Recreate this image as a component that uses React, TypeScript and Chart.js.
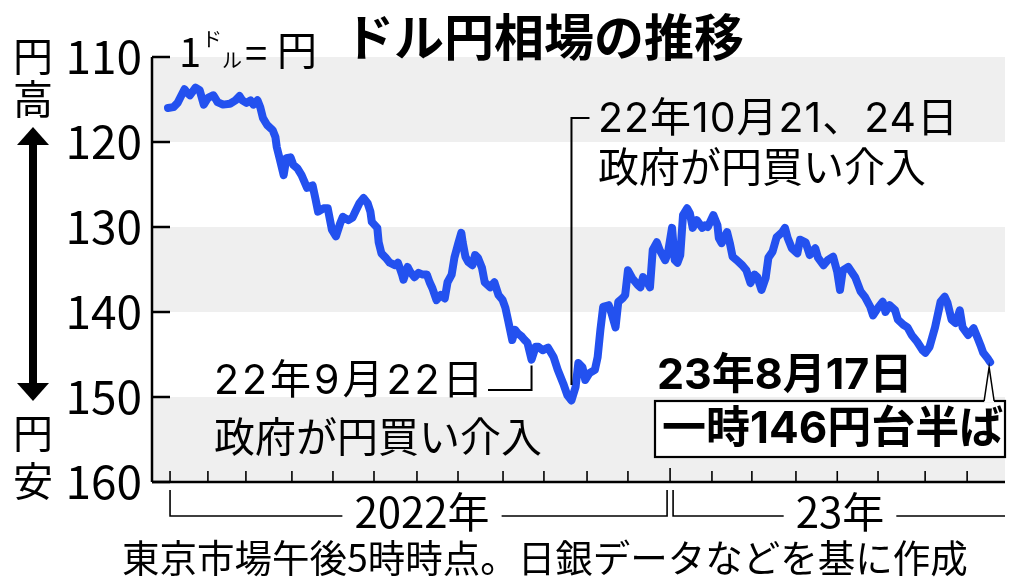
import React, { useEffect, useRef } from 'react';
import { Chart, registerables } from 'chart.js';

Chart.register(...registerables);

// Days counted from 2022-01-01 (x position on the time axis)
const days = [0,4,7,12,14,16,20,23,26,29,33,36,40,45,49,52,54,57,60,62,65,67,69,72,76,78,79,81,84,86,89,91,94,97,101,105,107,109,113,116,119,122,125,127,131,134,136,139,142,145,147,148,152,153,155,158,161,165,167,170,171,174,176,179,182,185,188,190,192,195,198,201,203,206,208,211,213,214,216,218,221,223,225,228,230,234,237,240,243,245,247,250,252,254,257,259,261,264,267,269,272,276,280,283,287,290,293,296,298,301,303,306,310,312,314,316,320,322,325,327,330,332,334,337,341,343,345,348,350,352,355,357,361,363,366,368,370,372,374,377,379,381,384,388,390,392,396,399,400,402,406,408,410,413,417,420,423,426,428,431,434,436,439,442,446,448,450,453,457,459,463,466,470,472,476,479,483,486,488,490,494,499,503,506,510,512,516,519,521,524,528,530,534,537,540,544,548,550,553,557,561,564,566,569,572,575,577,581,585,588,590,592,595,597];

// Yen per dollar, Tokyo 5pm
const usdJpy = [116.0,115.9,115.4,113.8,114.2,114.5,113.6,113.9,115.6,114.8,114.5,115.3,115.6,115.5,115.1,114.6,115.1,115.4,115.1,115.6,115.1,115.9,117.2,118.0,118.6,119.4,120.6,121.9,123.9,121.9,121.8,122.7,123.1,123.9,125.4,125.1,126.6,128.2,127.8,127.8,130.3,131.1,129.6,128.8,129.2,128.9,128.2,127.2,126.6,127.2,128.2,129.4,130.1,131.8,133.1,133.6,134.2,134.5,134.2,135.6,136.2,134.7,135.3,135.9,135.4,135.6,135.6,136.5,137.2,138.6,138.0,138.4,136.5,135.6,133.6,131.8,130.7,131.8,133.5,134.1,134.5,133.3,133.6,134.8,136.5,137.1,136.5,138.0,138.6,139.5,141.0,143.3,142.1,142.5,142.9,143.3,143.6,145.6,144.1,144.1,144.5,144.2,145.3,146.8,148.4,149.8,150.4,148.8,146.0,146.5,148.0,147.2,146.8,145.3,142.1,139.4,139.2,140.1,141.8,138.8,138.4,138.0,135.1,136.0,136.8,137.1,135.9,136.5,137.1,132.7,131.8,132.7,133.9,133.1,130.1,133.9,134.2,133.3,128.6,127.8,128.4,130.1,129.2,130.1,129.8,130.0,128.6,129.8,131.3,131.9,130.6,131.9,133.5,133.9,134.5,135.1,136.6,135.6,135.9,137.4,136.0,133.6,132.9,131.2,130.6,130.1,131.3,132.5,133.1,131.5,131.8,133.3,132.5,133.6,134.5,133.9,133.5,135.3,137.4,135.1,134.7,135.9,137.6,138.2,139.4,140.4,139.4,138.8,140.0,139.2,139.8,140.9,141.5,141.8,142.7,143.5,144.5,144.8,144.1,141.8,138.8,138.2,138.9,140.9,141.3,139.8,141.8,142.7,141.9,143.1,143.9,144.8,145.4,145.9];

// Month-start tick positions (days from 2022-01-01), Jan 2022 .. Aug 2023
const monthTicks = [1.5,29,56.6,90,119.8,149.6,180.8,210.6,243.3,273,304.3,334,364.6,395,424,456,486,515.6,549.8,580.3];
const yearStartIndex = 12; // Jan 2023 in monthTicks

const yTicks = [110, 120, 130, 140, 150, 160];
const shadedBands = [[110, 120], [130, 140], [150, 160]];

const titleText = 'ドル円相場の推移';
const yearLabels = ['2022年', '23年'];
const sourceNote = '東京市場午後5時時点。日銀データなどを基に作成';
const oct21Label = ['22年10月21、24日', '政府が円買い介入'];
const sep22Label = ['22年9月22日', '政府が円買い介入'];
const latestDate = '23年8月17日';
const latestNote = '一時146円台半ば';
const sep22Day = 264;
const oct21Day = 293;

const FONT = '"Noto Sans CJK JP", "Noto Sans", sans-serif';
const NUMFONT = 'Inter, "Noto Sans CJK JP", sans-serif';
const LINE_COLOR = '#2351ef';

const decorPlugin = {
  id: 'decor',
  beforeDraw(chart: any) {
    const { ctx, chartArea, scales } = chart;
    const y = scales.y;
    ctx.save();
    ctx.fillStyle = '#efefef';
    for (const [a, b] of shadedBands) {
      const y1 = y.getPixelForValue(a);
      const y2 = y.getPixelForValue(b);
      ctx.fillRect(chartArea.left, Math.min(y1, y2), chartArea.right - chartArea.left, Math.abs(y2 - y1));
    }
    ctx.restore();
  },
  afterDraw(chart: any) {
    const { ctx, chartArea, scales } = chart;
    const x = scales.x;
    const y = scales.y;
    const L = chartArea.left;
    const R = chartArea.right;
    const B = chartArea.bottom;
    ctx.save();
    ctx.strokeStyle = '#000';
    ctx.fillStyle = '#000';
    ctx.lineCap = 'butt';

    // left axis + inward ticks
    ctx.lineWidth = 2.5;
    ctx.beginPath();
    ctx.moveTo(L, y.getPixelForValue(110));
    ctx.lineTo(L, B);
    ctx.stroke();
    for (const t of yTicks) {
      const py = y.getPixelForValue(t);
      ctx.beginPath();
      ctx.moveTo(L, py);
      ctx.lineTo(L + 18, py);
      ctx.stroke();
    }
    // bottom axis
    ctx.beginPath();
    ctx.moveTo(L, B);
    ctx.lineTo(R, B);
    ctx.stroke();
    ctx.lineWidth = 1.6;
    monthTicks.forEach((d, i) => {
      const px = x.getPixelForValue(d);
      ctx.beginPath();
      ctx.moveTo(px, B);
      ctx.lineTo(px, B - (i === yearStartIndex ? 14 : 11));
      ctx.stroke();
    });

    // year brackets
    const bx0 = x.getPixelForValue(monthTicks[0]);
    const bxm = x.getPixelForValue(monthTicks[yearStartIndex]);
    const by = B + 34;
    const byTop = B + 8;
    ctx.lineWidth = 1.6;
    ctx.font = `42px ${FONT}`;
    ctx.textBaseline = 'middle';
    ctx.textAlign = 'center';
    const c1 = 422, c2 = 840;
    const w1 = ctx.measureText(yearLabels[0]).width / 2 + 12;
    const w2 = ctx.measureText(yearLabels[1]).width / 2 + 12;
    ctx.beginPath();
    ctx.moveTo(bx0, byTop); ctx.lineTo(bx0, by); ctx.lineTo(c1 - w1, by);
    ctx.moveTo(c1 + w1, by); ctx.lineTo(bxm - 3, by); ctx.lineTo(bxm - 3, byTop);
    ctx.moveTo(bxm + 3, byTop); ctx.lineTo(bxm + 3, by); ctx.lineTo(c2 - w2, by);
    ctx.moveTo(c2 + w2, by); ctx.lineTo(R, by);
    ctx.stroke();
    ctx.fillText(yearLabels[0], c1, by - 4);
    ctx.fillText(yearLabels[1], c2, by - 4);

    // footer
    ctx.textAlign = 'left';
    ctx.font = `37.5px ${FONT}`;
    ctx.fillText(sourceNote, 122, 558);

    // title
    ctx.font = `bold 50px ${FONT}`;
    ctx.fillText(titleText, 344, 37);

    // unit label 1ドル=円
    ctx.font = `40px ${FONT}`;
    ctx.fillText('1', 179, 52);
    ctx.font = `20px ${FONT}`;
    ctx.fillText('ド', 202, 39);
    ctx.fillText('ル', 222, 60);
    ctx.font = `40px ${FONT}`;
    ctx.fillText('=', 245, 53);
    ctx.fillText('円', 277, 50);

    // side labels
    ctx.fillText('円', 13, 56);
    ctx.fillText('高', 13, 99);
    ctx.fillText('円', 13, 433);
    ctx.fillText('安', 13, 481);

    // double arrow
    const ax = 33;
    ctx.lineWidth = 8;
    ctx.beginPath();
    ctx.moveTo(ax, 142); ctx.lineTo(ax, 386);
    ctx.stroke();
    ctx.beginPath();
    ctx.moveTo(ax, 127); ctx.lineTo(ax - 16, 145); ctx.lineTo(ax + 16, 145); ctx.closePath();
    ctx.fill();
    ctx.beginPath();
    ctx.moveTo(ax, 401); ctx.lineTo(ax - 16, 383); ctx.lineTo(ax + 16, 383); ctx.closePath();
    ctx.fill();

    // Oct 21 annotation
    const ox = x.getPixelForValue(oct21Day);
    ctx.lineWidth = 2;
    ctx.beginPath();
    ctx.moveTo(ox + 18, 118);
    ctx.lineTo(ox, 118);
    ctx.lineTo(ox, y.getPixelForValue(148.6));
    ctx.stroke();
    ctx.font = `41px ${NUMFONT}`;
    (ctx as any).letterSpacing = '1px';
    ctx.fillText(oct21Label[0], 598, 120);
    (ctx as any).letterSpacing = '0px';
    ctx.fillText(oct21Label[1], 598, 170);

    // Sep 22 annotation
    const sx = x.getPixelForValue(sep22Day);
    ctx.beginPath();
    ctx.moveTo(488, 390);
    ctx.lineTo(sx, 390);
    ctx.lineTo(sx, y.getPixelForValue(146.3));
    ctx.stroke();
    (ctx as any).letterSpacing = '3px';
    ctx.fillText(sep22Label[0], 214, 382);
    (ctx as any).letterSpacing = '0px';
    ctx.fillText(sep22Label[1], 214, 440);

    // latest annotation
    ctx.font = `bold 43px ${NUMFONT}`;
    ctx.fillText(latestDate, 657, 376);
    const bxL = 655, bxT = 401, bxR = 1005, bxB = 457;
    ctx.fillStyle = '#fff';
    ctx.fillRect(bxL, bxT, bxR - bxL, bxB - bxT);
    ctx.strokeStyle = '#000';
    ctx.lineWidth = 2.2;
    ctx.strokeRect(bxL, bxT, bxR - bxL, bxB - bxT);
    ctx.fillStyle = '#000';
    ctx.font = `bold 44px ${NUMFONT}`;
    ctx.fillText(latestNote, 662, 430);
    // callout wedge
    const lastX = x.getPixelForValue(days[days.length - 1]);
    const lastY = y.getPixelForValue(usdJpy[usdJpy.length - 1]);
    ctx.fillStyle = '#fff';
    ctx.beginPath();
    ctx.moveTo(lastX - 6, bxT + 1.5);
    ctx.lineTo(lastX - 1, lastY + 5);
    ctx.lineTo(lastX + 4, bxT + 1.5);
    ctx.closePath();
    ctx.fill();
    ctx.lineWidth = 1.5;
    ctx.beginPath();
    ctx.moveTo(lastX - 6, bxT);
    ctx.lineTo(lastX - 1, lastY + 5);
    ctx.lineTo(lastX + 4, bxT);
    ctx.stroke();
    ctx.restore();
  },
};

export default function App() {
  const canvasRef = useRef<HTMLCanvasElement | null>(null);
  useEffect(() => {
    if (!canvasRef.current) return;
    const chart = new Chart(canvasRef.current, {
      type: 'line',
      data: {
        datasets: [
          {
            data: days.map((d, i) => ({ x: d, y: usdJpy[i] })),
            borderColor: LINE_COLOR,
            borderWidth: 8,
            pointRadius: 0,
            tension: 0,
            borderJoinStyle: 'round',
            borderCapStyle: 'round',
            fill: false,
          },
        ],
      },
      options: {
        responsive: false,
        animation: false,
        layout: { padding: { top: 57, bottom: 104, right: 19, left: 0 } },
        plugins: { legend: { display: false }, tooltip: { enabled: false }, title: { display: false } },
        scales: {
          x: { type: 'linear', display: false, min: -11.6, max: 607.8 },
          y: {
            reverse: true,
            min: 110,
            max: 160,
            afterFit: (s: any) => { s.width = 152; },
            afterBuildTicks: (s: any) => { s.ticks = yTicks.map((v) => ({ value: v })); },
            grid: { drawOnChartArea: false, drawTicks: false },
            border: { display: false },
            ticks: { padding: 10, color: '#000', font: { family: FONT, size: 46 } },
          },
        },
      },
      plugins: [decorPlugin],
    } as any);
    return () => chart.destroy();
  }, []);
  return (
    <div style={{ position: 'absolute', left: 0, top: 0, width: 1024, height: 586, background: '#fff' }}>
      <canvas ref={canvasRef} width={1024} height={586} />
    </div>
  );
}
